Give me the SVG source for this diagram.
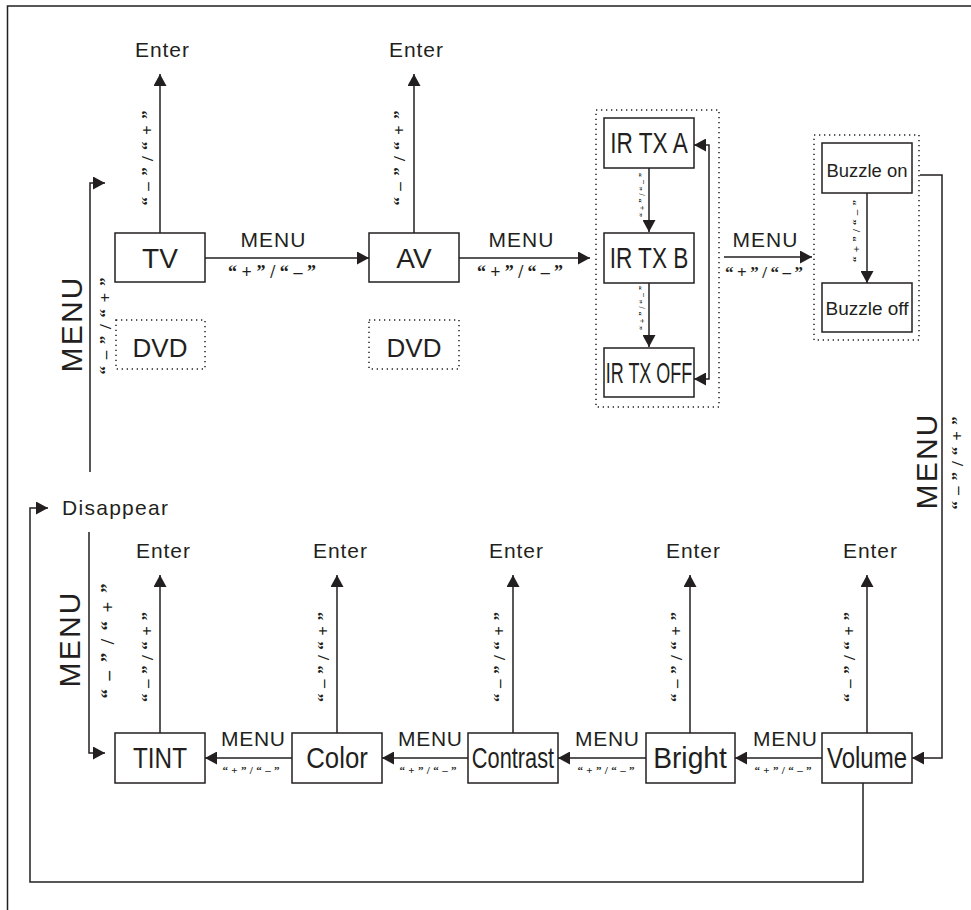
<svg xmlns="http://www.w3.org/2000/svg" width="971" height="910" viewBox="0 0 971 910">
<defs>
<marker id="ah" viewBox="0 0 12 13" refX="12" refY="6.5" markerWidth="12" markerHeight="13" markerUnits="userSpaceOnUse" orient="auto-start-reverse"><path d="M0,0 L12,6.5 L0,13 z" fill="#231f20"/></marker>
<style>
.bx{fill:#fff;stroke:#231f20;stroke-width:1.5}
.dt{fill:none;stroke:#231f20;stroke-width:1.5;stroke-dasharray:1.3 3.7}
.ln{fill:none;stroke:#231f20;stroke-width:1.5}
.ar{fill:none;stroke:#231f20;stroke-width:1.5;marker-end:url(#ah)}
.t{font-family:"Liberation Sans",Arial,sans-serif;fill:#231f20;text-anchor:middle}
.q{font-family:"Liberation Serif","Times New Roman",serif;font-weight:bold;fill:#231f20;text-anchor:middle}
</style>
</defs>
<rect width="971" height="910" fill="#fff"/>
<path class="ln" d="M7.5,910 V6 H971"/>

<g id="connectors">
<path class="ar" d="M160,233 V74"/>
<path class="ar" d="M414,233 V74"/>
<path class="ar" d="M205,258 H369"/>
<path class="ar" d="M459,258 H590"/>
<path class="ar" d="M724,257 H812"/>
<path class="ar" d="M649,168 V232"/>
<path class="ar" d="M649,283 V347"/>
<path class="ar" d="M694,145 H709 V379 H694" style="marker-start:url(#ah)"/>
<path class="ar" d="M867,193 V283"/>
<path class="ar" d="M920,175 H942 V758 H912"/>
<path class="ar" d="M822,758 H735"/>
<path class="ar" d="M646,758 H558"/>
<path class="ar" d="M468,758 H382"/>
<path class="ar" d="M292,758 H205"/>
<path class="ar" d="M160,733 V575"/>
<path class="ar" d="M337,733 V575"/>
<path class="ar" d="M513,733 V575"/>
<path class="ar" d="M690,733 V575"/>
<path class="ar" d="M867,733 V575"/>
<path class="ar" d="M863,783 V882 H30 V508 H48"/>
<path class="ar" d="M89,532 V753 H105"/>
<path class="ar" d="M90,472 V183 H105"/>
</g>

<g id="labels">
<text class="t" x="162" y="57" font-size="21" textLength="54">Enter</text>
<text class="t" x="416" y="57" font-size="21" textLength="54">Enter</text>
<text class="t" x="163" y="558" font-size="21" textLength="54">Enter</text>
<text class="t" x="340" y="558" font-size="21" textLength="54">Enter</text>
<text class="t" x="516" y="558" font-size="21" textLength="54">Enter</text>
<text class="t" x="693" y="558" font-size="21" textLength="54">Enter</text>
<text class="t" x="870" y="558" font-size="21" textLength="54">Enter</text>
<text class="t" x="62" y="515" font-size="21" textLength="106" style="text-anchor:start">Disappear</text>

<text class="t" x="273" y="247" font-size="21" textLength="65">MENU</text>
<text class="t" x="521" y="247" font-size="21" textLength="65">MENU</text>
<text class="t" x="765" y="247" font-size="21" textLength="65">MENU</text>
<text class="q" x="272" y="278" font-size="18" textLength="88" lengthAdjust="spacing">“ + ” / “ – ”</text>
<text class="q" x="520" y="278" font-size="18" textLength="86" lengthAdjust="spacing">“ + ” / “ – ”</text>
<text class="q" x="764" y="278" font-size="17" textLength="78" lengthAdjust="spacing">“ + ” / “ – ”</text>

<text class="t" x="253" y="746" font-size="21" textLength="64">MENU</text>
<text class="t" x="430" y="746" font-size="21" textLength="64">MENU</text>
<text class="t" x="607" y="746" font-size="21" textLength="64">MENU</text>
<text class="t" x="785" y="746" font-size="21" textLength="64">MENU</text>
<text class="q" x="251" y="774" font-size="11" textLength="57" lengthAdjust="spacing">“ + ” / “ – ”</text>
<text class="q" x="428" y="774" font-size="11" textLength="57" lengthAdjust="spacing">“ + ” / “ – ”</text>
<text class="q" x="606" y="774" font-size="11" textLength="57" lengthAdjust="spacing">“ + ” / “ – ”</text>
<text class="q" x="783" y="774" font-size="11" textLength="57" lengthAdjust="spacing">“ + ” / “ – ”</text>

<text class="t" transform="translate(82,325) rotate(-90)" font-size="30" textLength="95">MENU</text>
<text class="t" transform="translate(80,640) rotate(-90)" font-size="30" textLength="95">MENU</text>
<text class="t" transform="translate(937,462) rotate(-90)" font-size="30" textLength="95">MENU</text>

<text class="q" transform="translate(153,158) rotate(-90)" font-size="17" textLength="95" lengthAdjust="spacing">“ – ” / “ + ”</text>
<text class="q" transform="translate(405,158) rotate(-90)" font-size="17" textLength="95" lengthAdjust="spacing">“ – ” / “ + ”</text>
<text class="q" transform="translate(111,326) rotate(-90)" font-size="17" textLength="97" lengthAdjust="spacing">“ – ” / “ + ”</text>
<text class="q" transform="translate(114,641) rotate(-90)" font-size="19" textLength="115" lengthAdjust="spacing">“ – ” / “ + ”</text>
<text class="q" transform="translate(963,463) rotate(-90)" font-size="17" textLength="93" lengthAdjust="spacing">“ – ” / “ + ”</text>
<text class="q" transform="translate(153,657) rotate(-90)" font-size="17" textLength="90" lengthAdjust="spacing">“ – ” / “ + ”</text>
<text class="q" transform="translate(329,657) rotate(-90)" font-size="17" textLength="90" lengthAdjust="spacing">“ – ” / “ + ”</text>
<text class="q" transform="translate(505,657) rotate(-90)" font-size="17" textLength="90" lengthAdjust="spacing">“ – ” / “ + ”</text>
<text class="q" transform="translate(682,657) rotate(-90)" font-size="17" textLength="90" lengthAdjust="spacing">“ – ” / “ + ”</text>
<text class="q" transform="translate(855,657) rotate(-90)" font-size="17" textLength="90" lengthAdjust="spacing">“ – ” / “ + ”</text>
<text class="q" transform="translate(860,231) rotate(-90)" font-size="11" textLength="62" lengthAdjust="spacing">“ + ” / “ – ”</text>
<text class="q" transform="translate(645,195) rotate(-90)" font-size="8" textLength="44" lengthAdjust="spacing">“ + ” / “ – ”</text>
<text class="q" transform="translate(645,308) rotate(-90)" font-size="8" textLength="44" lengthAdjust="spacing">“ + ” / “ – ”</text>
</g>

<g id="tv"><rect class="bx" x="115" y="233" width="90" height="49"/><text class="t" x="160" y="268" font-size="28">TV</text></g>
<g id="av"><rect class="bx" x="369" y="233" width="90" height="49"/><text class="t" x="414" y="268" font-size="28">AV</text></g>
<g id="dvd1"><rect class="dt" x="116" y="320" width="89" height="49"/><text class="t" x="160" y="357" font-size="26">DVD</text></g>
<g id="dvd2"><rect class="dt" x="369" y="320" width="90" height="49"/><text class="t" x="414" y="357" font-size="26">DVD</text></g>

<g id="ir-group"><rect class="dt" x="596" y="110" width="123" height="297"/></g>
<g id="ir-a"><rect class="bx" x="604" y="118" width="90" height="50"/><text class="t" transform="translate(649,153) scale(0.78,1)" font-size="29">IR TX A</text></g>
<g id="ir-b"><rect class="bx" x="604" y="233" width="90" height="50"/><text class="t" transform="translate(649,268) scale(0.78,1)" font-size="29">IR TX B</text></g>
<g id="ir-off"><rect class="bx" x="604" y="348" width="90" height="49"/><text class="t" transform="translate(649,383) scale(0.62,1)" font-size="29">IR TX OFF</text></g>

<g id="buzzle-group"><rect class="dt" x="814" y="135" width="105" height="205"/></g>
<g id="buzzle-on"><rect class="bx" x="822" y="143" width="90" height="50"/><text class="t" x="867" y="177" font-size="18" textLength="81" lengthAdjust="spacingAndGlyphs">Buzzle on</text></g>
<g id="buzzle-off"><rect class="bx" x="822" y="283" width="90" height="49"/><text class="t" x="867" y="315" font-size="18" textLength="83" lengthAdjust="spacingAndGlyphs">Buzzle off</text></g>

<g id="tint"><rect class="bx" x="115" y="733" width="90" height="50"/><text class="t" transform="translate(160,768) scale(0.81,1)" font-size="30">TINT</text></g>
<g id="color"><rect class="bx" x="292" y="733" width="90" height="50"/><text class="t" transform="translate(337,768) scale(0.86,1)" font-size="30">Color</text></g>
<g id="contrast"><rect class="bx" x="468" y="733" width="90" height="50"/><text class="t" transform="translate(513,768) scale(0.726,1)" font-size="30">Contrast</text></g>
<g id="bright"><rect class="bx" x="646" y="733" width="89" height="50"/><text class="t" transform="translate(690,768) scale(0.94,1)" font-size="30">Bright</text></g>
<g id="volume"><rect class="bx" x="822" y="733" width="90" height="50"/><text class="t" transform="translate(867,768) scale(0.8,1)" font-size="30">Volume</text></g>
</svg>
